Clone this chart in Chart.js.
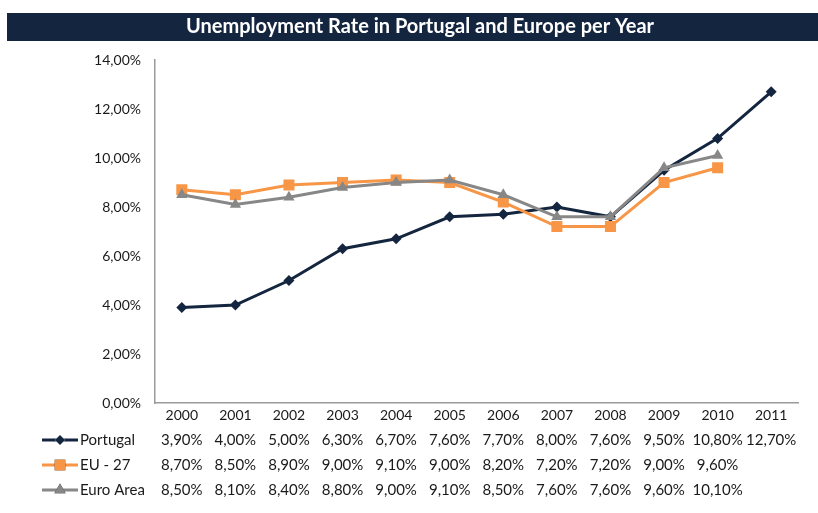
<!DOCTYPE html>
<html>
<head>
<meta charset="utf-8">
<script src="https://cdn.jsdelivr.net/npm/chart.js@4/dist/chart.umd.min.js"></script>
<style>
  html, body { margin: 0; padding: 0; background: #ffffff; }
  #wrap { position: relative; width: 818px; height: 513px; }
  canvas { display: block; }
</style>
</head>
<body>
<div id="wrap"><canvas id="chart" width="818" height="513"></canvas></div>
<script>
// Years and unemployment rates (%)
const years = ['2000','2001','2002','2003','2004','2005','2006','2007','2008','2009','2010','2011'];
const portugal = [3.9, 4.0, 5.0, 6.3, 6.7, 7.6, 7.7, 8.0, 7.6, 9.5, 10.8, 12.7];
const eu27     = [8.7, 8.5, 8.9, 9.0, 9.1, 9.0, 8.2, 7.2, 7.2, 9.0, 9.6, null];
const euroArea = [8.5, 8.1, 8.4, 8.8, 9.0, 9.1, 8.5, 7.6, 7.6, 9.6, 10.1, null];
const seriesNames = ['Portugal', 'EU - 27', 'Euro Area'];
const chartTitle = 'Unemployment Rate in Portugal and Europe per Year';

const NAVY = '#13253f';
const ORANGE = '#f79646';
const GREY = '#878787';
const TEXT = '#1a1a1a';
const FONT = 'Lato, "Open Sans", sans-serif';

const fmt = v => v.toFixed(2).replace('.', ',') + '%';

// Title banner plus the data table under the axis
const tablePlugin = {
  id: 'tablePlugin',
  afterDraw(chart) {
    const ctx = chart.ctx;
    const x = chart.scales.x;
    ctx.save();
    // banner
    ctx.fillStyle = NAVY;
    ctx.fillRect(7, 13, 811, 28);
    ctx.fillStyle = '#ffffff';
    ctx.font = 'bold 20px ' + FONT;
    ctx.textAlign = 'center';
    ctx.textBaseline = 'middle';
    ctx.fillText(chartTitle, 420, 27);

    // table rows
    const rows = [
      { name: seriesNames[0], data: portugal, color: NAVY, style: 'rectRot', r: 5 },
      { name: seriesNames[1], data: eu27, color: ORANGE, style: 'rect', r: 7.5 },
      { name: seriesNames[2], data: euroArea, color: GREY, style: 'triangle', r: 6.5 }
    ];
    const rowY = [440, 465, 490];
    rows.forEach((row, i) => {
      const y = rowY[i];
      // legend key
      ctx.strokeStyle = row.color;
      ctx.lineWidth = 3;
      ctx.beginPath();
      ctx.moveTo(42, y);
      ctx.lineTo(78, y);
      ctx.stroke();
      Chart.helpers.drawPoint(ctx, {
        pointStyle: row.style, radius: row.r, borderWidth: 0, rotation: 0
      }, 60, y);
      ctx.fillStyle = row.color;
      ctx.fill();
      ctx.fillStyle = TEXT;
      ctx.font = '15px ' + FONT;
      ctx.textAlign = 'left';
      ctx.fillText(row.name, 80, y);
      ctx.textAlign = 'center';
      row.data.forEach((v, j) => {
        if (v === null) return;
        ctx.fillText(fmt(v), x.getPixelForValue(j), y);
      });
    });
    ctx.restore();
  }
};

const mk = (label, data, color, style, radius, order) => ({
  label, data,
  borderColor: color,
  backgroundColor: color,
  borderWidth: 3,
  pointStyle: style,
  pointRadius: radius,
  pointBorderWidth: 0,
  pointBackgroundColor: color,
  tension: 0,
  spanGaps: false,
  order
});

new Chart(document.getElementById('chart'), {
  type: 'line',
  data: {
    labels: years,
    datasets: [
      mk(seriesNames[0], portugal, NAVY, 'rectRot', 5.5, 3),
      mk(seriesNames[1], eu27, ORANGE, 'rect', 7.8, 2),
      mk(seriesNames[2], euroArea, GREY, 'triangle', 6.5, 1)
    ]
  },
  options: {
    responsive: false,
    animation: false,
    devicePixelRatio: 1,
    layout: { padding: { top: 60, right: 20, left: 0, bottom: 0 } },
    plugins: {
      legend: { display: false },
      title: { display: false },
      tooltip: { enabled: false }
    },
    scales: {
      x: {
        offset: true,
        grid: { display: false, drawTicks: false, offset: true },
        border: { display: true, color: '#9a9a9a', width: 1.5 },
        ticks: { color: TEXT, font: { family: FONT, size: 14 }, padding: 4, maxRotation: 0, autoSkip: false },
        afterFit(scale) { scale.height = 110; }
      },
      y: {
        min: 0, max: 14,
        grid: { display: false, drawTicks: false },
        border: { display: true, color: '#9a9a9a', width: 1.5 },
        ticks: {
          stepSize: 2, color: TEXT, font: { family: FONT, size: 14 }, padding: 14,
          callback: v => fmt(v)
        },
        afterFit(scale) { scale.width = 155; }
      }
    }
  },
  plugins: [tablePlugin]
});
</script>
</body>
</html>
